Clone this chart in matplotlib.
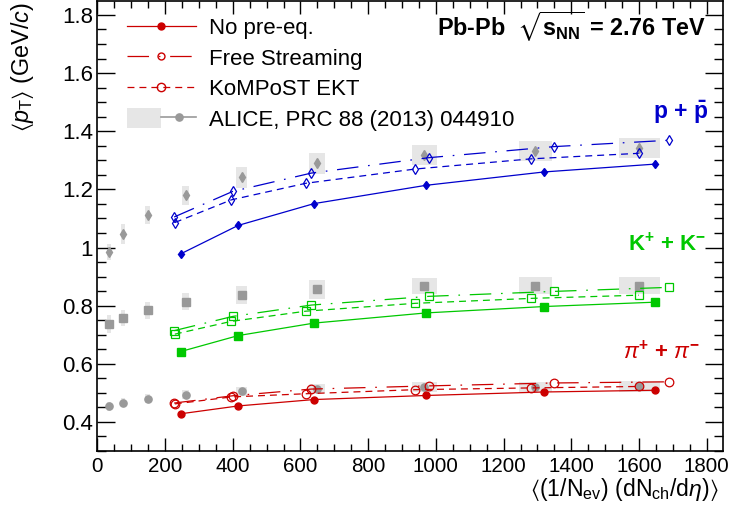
import matplotlib
matplotlib.use('Agg')
import matplotlib.pyplot as plt
from matplotlib.lines import Line2D
from matplotlib.patches import Patch
from matplotlib.legend_handler import HandlerTuple
from matplotlib.ticker import MultipleLocator

plt.rcParams['font.family'] = ['Liberation Sans', 'DejaVu Sans']
plt.rcParams['mathtext.fontset'] = 'custom'
plt.rcParams['mathtext.rm'] = 'Liberation Sans'
plt.rcParams['mathtext.it'] = 'Liberation Sans:italic'
plt.rcParams['mathtext.bf'] = 'Liberation Sans:bold'
plt.rcParams['mathtext.fallback'] = 'stix'
plt.rcParams['lines.scale_dashes'] = False

# ---------------- data ----------------
# ALICE, PRC 88 (2013) 044910
alice_x = [35, 76, 149, 261, 426, 649, 966, 1294, 1601]
alice_xerr = [5, 5, 7, 10, 15, 23, 37, 49, 60]
alice_pi = [0.454, 0.466, 0.480, 0.494, 0.505, 0.514, 0.520, 0.520, 0.522]
alice_pi_sys = [0.016, 0.016, 0.016, 0.016, 0.016, 0.016, 0.017, 0.017, 0.018]
alice_K = [0.737, 0.757, 0.784, 0.813, 0.836, 0.856, 0.868, 0.869, 0.869]
alice_K_sys = [0.030, 0.028, 0.029, 0.029, 0.032, 0.032, 0.028, 0.028, 0.028]
alice_p = [0.984, 1.047, 1.112, 1.180, 1.241, 1.289, 1.319, 1.333, 1.342]
alice_p_sys = [0.028, 0.034, 0.031, 0.033, 0.035, 0.036, 0.034, 0.034, 0.033]

# models
nopre_x = [246, 416, 640, 971, 1320, 1648]
fs_x = [227, 400, 632, 979, 1348, 1689]
kom_x = [229, 396, 616, 939, 1281, 1599]

nopre_pi = [0.428, 0.455, 0.477, 0.491, 0.503, 0.509]
fs_pi = [0.465, 0.490, 0.513, 0.524, 0.534, 0.538]
kom_pi = [0.462, 0.486, 0.497, 0.511, 0.517, 0.522]

nopre_K = [0.642, 0.697, 0.740, 0.775, 0.797, 0.812]
fs_K = [0.714, 0.763, 0.802, 0.832, 0.849, 0.863]
kom_K = [0.702, 0.746, 0.781, 0.808, 0.825, 0.836]

nopre_p = [0.978, 1.076, 1.151, 1.214, 1.260, 1.287]
fs_p = [1.105, 1.193, 1.256, 1.309, 1.347, 1.369]
kom_p = [1.086, 1.164, 1.221, 1.270, 1.305, 1.324]

legend_labels = ['No pre-eq.', 'Free Streaming', 'KoMPoST EKT',
                 'ALICE, PRC 88 (2013) 044910']

# ---------------- styles ----------------
RED = '#cc0000'
GREEN = '#00c800'
BLUE = '#0000cc'
GRAY = '#999999'
BOXC = '#e6e6e6'
FS_LS = (0, (15.5, 7.0, 1.2, 7.0))
KOM_LS = (0, (5.0, 3.6))
LW = 0.9

fig = plt.figure(figsize=(7.30, 5.14), dpi=100)
ax = fig.add_axes([97.3 / 730, 63 / 514, 625.4 / 730, 450 / 514])

# ALICE boxes + markers
alice_sets = [(alice_pi, alice_pi_sys, 'o', 5.2),
              (alice_K, alice_K_sys, 's', 5.2),
              (alice_p, alice_p_sys, 'd', 5.0)]
for yv, sv, mk, ms in alice_sets:
    bottoms = [y - s for y, s in zip(yv, sv)]
    heights = [2 * s for s in sv]
    widths = [2 * e for e in alice_xerr]
    ax.bar(alice_x, heights, width=widths, bottom=bottoms, color=BOXC,
           edgecolor='none', zorder=1)
    ax.plot(alice_x, yv, ls='none', marker=mk, ms=ms, color=GRAY,
            mec=GRAY, zorder=2)

# model curves
species = [(RED, 'o', 5.0, 6.2, nopre_pi, fs_pi, kom_pi),
           (GREEN, 's', 5.2, 5.8, nopre_K, fs_K, kom_K),
           (BLUE, 'd', 4.3, 5.6, nopre_p, fs_p, kom_p)]
for col, mk, msf, mso, yn, yf, yk in species:
    ax.plot(nopre_x, yn, color=col, lw=LW, marker=mk, ms=msf, zorder=4)
    ax.plot(fs_x, yf, color=col, lw=LW, ls=FS_LS, marker=mk, ms=mso,
            mfc='none', mec=col, mew=0.9, zorder=4)
    ax.plot(kom_x, yk, color=col, lw=LW, ls=KOM_LS, marker=mk, ms=mso,
            mfc='none', mec=col, mew=0.9, zorder=4)

ax.set_xlim(0, 1847)
ax.set_ylim(0.30, 1.848)

ax.xaxis.set_major_locator(MultipleLocator(200))
ax.xaxis.set_minor_locator(MultipleLocator(50))
ax.yaxis.set_major_locator(MultipleLocator(0.2))
ax.yaxis.set_minor_locator(MultipleLocator(0.05))

def yfmt(v, pos):
    s = ('%.1f' % v)
    if s.endswith('.0'):
        s = s[:-2]
    return s
ax.yaxis.set_major_formatter(plt.FuncFormatter(yfmt))

ax.tick_params(axis='both', which='both', direction='in', top=True,
               right=True, width=1.0, colors='black')
ax.tick_params(axis='x', which='major', length=9.5, pad=4.5, labelsize=14.8)
ax.tick_params(axis='x', which='minor', length=5)
ax.tick_params(axis='y', which='major', length=13, pad=3, labelsize=16)
ax.tick_params(axis='y', which='minor', length=6.5)
for sp in ax.spines.values():
    sp.set_linewidth(1.2)

# legend
h1 = Line2D([], [], color=RED, lw=LW, marker='o', ms=5.0)
h2 = Line2D([], [], color=RED, lw=LW, ls=FS_LS, marker='o', ms=5.0,
            mfc='none', mec=RED)
h3 = Line2D([], [], color=RED, lw=LW, ls=KOM_LS, marker='o', ms=6.0,
            mfc='none', mec=RED)
h4 = (Patch(facecolor=BOXC, edgecolor='none'),
      Line2D([], [], color=GRAY, lw=1.2, marker='o', ms=5.2))
leg = ax.legend([h1, h2, h3, h4], legend_labels,
                handler_map={tuple: HandlerTuple(ndivide=None, pad=0)},
                loc='upper left', bbox_to_anchor=(127 / 730, 1 - 17 / 514),
                bbox_transform=fig.transFigure, frameon=False, fontsize=16,
                handlelength=3.1, handleheight=0.98, handletextpad=0.6,
                labelspacing=0.36, borderpad=0, borderaxespad=0)

# annotations
ax.text(0.973, 0.942, r'Pb-Pb  $\sqrt{\mathbf{s}_{\mathbf{NN}}}$ = 2.76 TeV',
        transform=ax.transAxes, ha='right', va='center', fontsize=16.8,
        fontweight='bold')
ax.text(0.976, 0.753, r'$\mathbf{p}$ + $\mathbf{\bar{p}}$', color=BLUE,
        transform=ax.transAxes, ha='right', va='center', fontsize=16.5,
        fontweight='bold')
ax.text(0.973, 0.46, r'K$^{\mathbf{+}}$ + K$^{\mathbf{-}}$', color=GREEN,
        transform=ax.transAxes, ha='right', va='center', fontsize=16,
        fontweight='bold')
ax.text(0.964, 0.218, r'$\pi^{\mathbf{+}}$ + $\pi^{\mathbf{-}}$', color=RED,
        transform=ax.transAxes, ha='right', va='center', fontsize=16,
        fontweight='bold')

fig.text(22 / 730, 1 - 2 / 514,
         r'$\langle\mathit{p}_{\mathrm{T}}\rangle$ (GeV/$\mathit{c}$)',
         rotation=90, ha='center', va='top', fontsize=16.8)
fig.text(719 / 730, 18 / 514,
         r'$\langle$(1/N$_{\mathrm{ev}}$) (dN$_{\mathrm{ch}}$/d$\eta$)$\rangle$',
         ha='right', va='baseline', fontsize=16.6)

fig.savefig('out.png', dpi=100)
